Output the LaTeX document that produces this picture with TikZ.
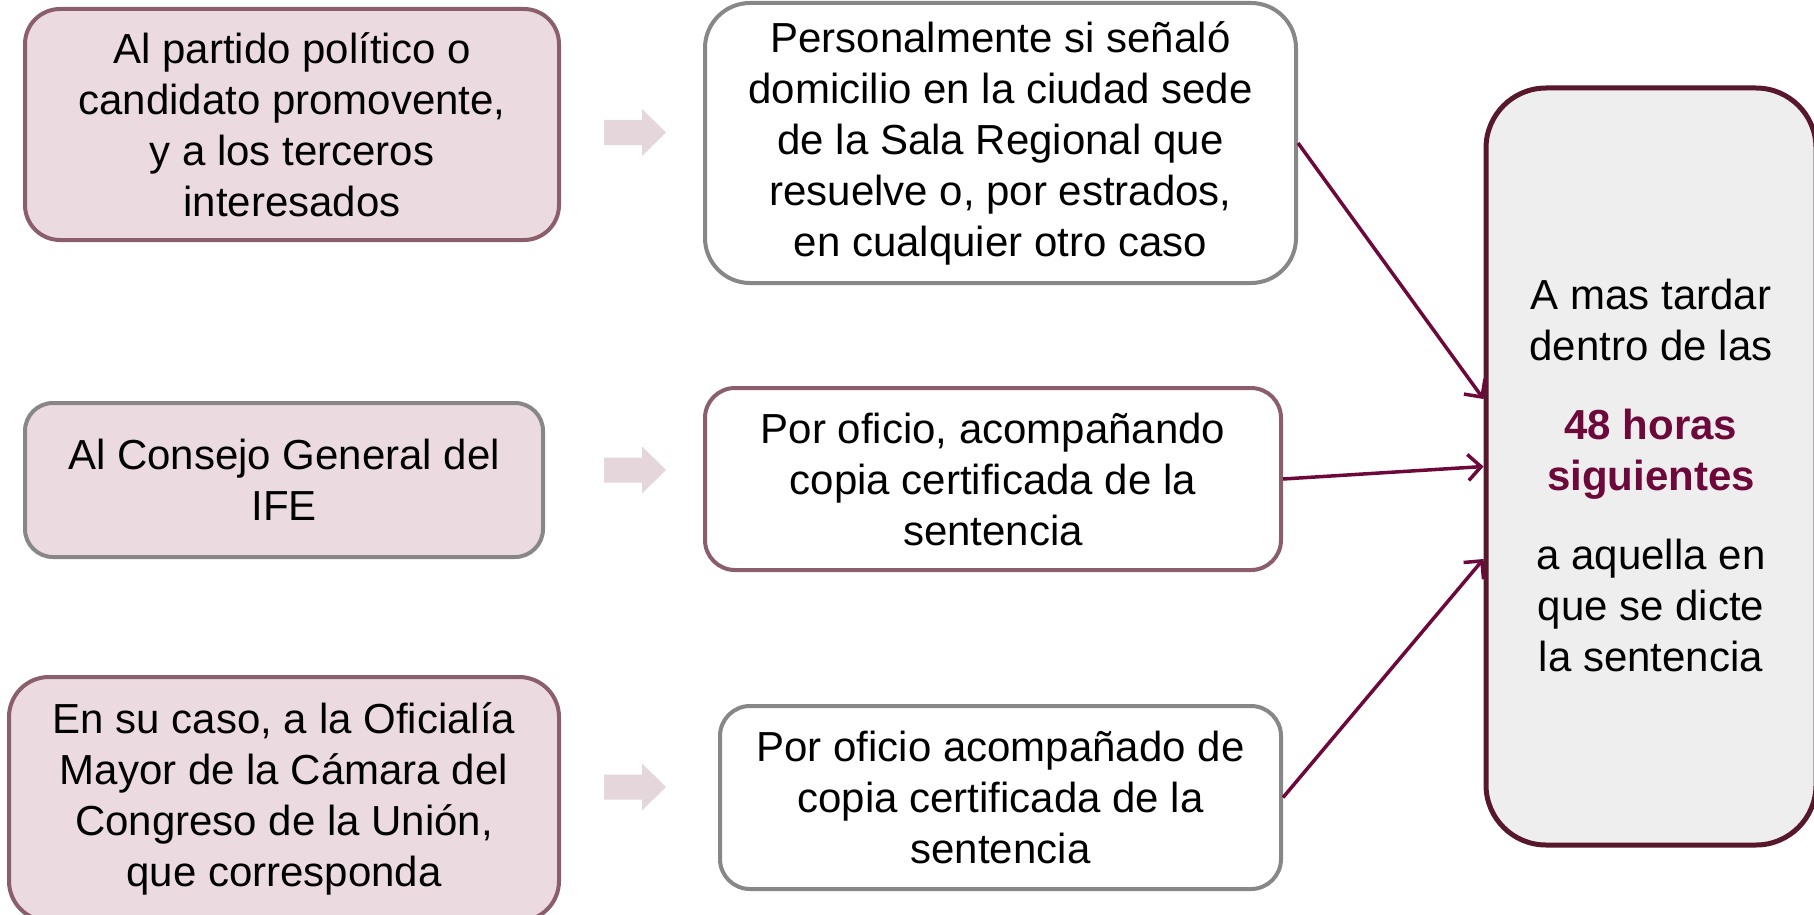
\documentclass[tikz,border=0pt]{standalone}
\usepackage{fontspec}
\setmainfont{Liberation Sans}
\usetikzlibrary{arrows.meta}
\definecolor{mauve}{RGB}{139,94,108}
\definecolor{greyb}{RGB}{135,135,135}
\definecolor{darkm}{RGB}{88,24,44}
\definecolor{conn}{RGB}{108,8,58}
\definecolor{pinkfill}{RGB}{235,219,224}
\definecolor{greyfill}{RGB}{238,238,238}
\definecolor{arrowcol}{RGB}{228,214,218}
\tikzset{
  box/.style={rectangle, align=center, inner sep=0pt, line width=4pt,
    font=\fontsize{42}{51}\selectfont},
  pinkbox/.style={box, fill=pinkfill},
  whitebox/.style={box, fill=white},
  conline/.style={draw=conn, line width=3.5pt, -{Straight Barb[length=13pt,width=26pt,line width=3.5pt]}},
  barrow/.pic={\fill[arrowcol] (-31,-12.5) -- (7,-12.5) -- (7,-23.5) -- (31,0) -- (7,23.5) -- (7,12.5) -- (-31,12.5) -- cycle;}
}
\begin{document}
\begin{tikzpicture}[x=1pt,y=-1pt]
\clip (0,0) rectangle (1814,915);
\fill[white] (0,0) rectangle (1814,915);
% left column
\node[pinkbox, draw=mauve, rounded corners=35pt, minimum width=534pt, minimum height=231pt] (a1) at (292,124.5)
  {Al partido político o\\candidato promovente,\\y a los terceros\\interesados};
\node[pinkbox, draw=greyb, rounded corners=28pt, minimum width=518pt, minimum height=154pt] (a2) at (284,480)
  {Al Consejo General del\\IFE};
\node[pinkbox, draw=mauve, rounded corners=40pt, minimum width=550pt, minimum height=244pt] (a3) at (284,799)
  {En su caso, a la Oficialía\\Mayor de la Cámara del\\Congreso de la Unión,\\que corresponda};
% block arrows
\pic at (635,132.5) {barrow};
\pic at (635,470) {barrow};
\pic at (635,787) {barrow};
% middle column
\node[whitebox, draw=greyb, rounded corners=45pt, minimum width=591pt, minimum height=280pt] (b1) at (1000.5,143)
  {Personalmente si señaló\\domicilio en la ciudad sede\\de la Sala Regional que\\resuelve o, por estrados,\\en cualquier otro caso};
\node[whitebox, draw=mauve, rounded corners=30pt, minimum width=576pt, minimum height=182pt] (b2) at (993,479)
  {Por oficio, acompañando\\copia certificada de la\\sentencia};
\node[whitebox, draw=greyb, rounded corners=30pt, minimum width=561pt, minimum height=183pt] (b3) at (1000.5,797.5)
  {Por oficio acompañado de\\copia certificada de la\\sentencia};
% right box
\node[box, fill=greyfill, draw=darkm, line width=5pt, rounded corners=60pt, minimum width=330pt, minimum height=757pt] (c) at (1651,466.5) {};
\node[box, draw=none, fill=none] (ct) at ([yshift=-9pt]c.center)
  {A mas tardar\\dentro de las\\[28pt]{\color{conn}\bfseries 48 horas}\\{\color{conn}\bfseries siguientes}\\[28pt]a aquella en\\que se dicte\\la sentencia};
% connectors
\draw[conline] (b1.east) -- ([yshift=67.5pt]c.west);
\draw[conline] (b2.east) -- (c.west);
\draw[conline] (b3.east) -- ([yshift=-92.5pt]c.west);
\end{tikzpicture}
\end{document}
